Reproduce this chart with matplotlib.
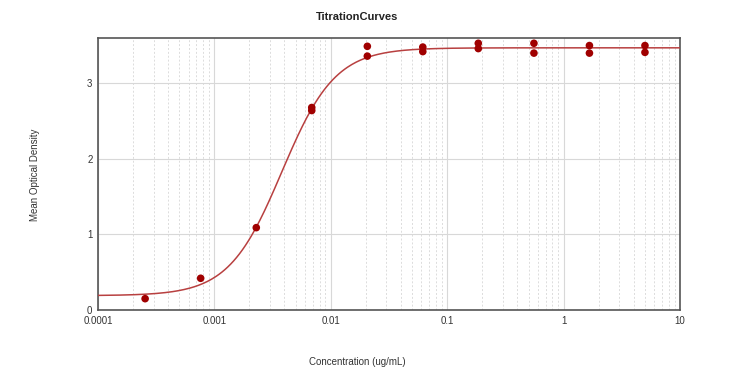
import numpy as np
import matplotlib
matplotlib.use("Agg")
import matplotlib.pyplot as plt
from matplotlib.ticker import FixedLocator, FixedFormatter, LogLocator, NullFormatter

plt.rcParams['font.family'] = ['Liberation Sans', 'DejaVu Sans']

# Data (replicates per concentration)
conc = [0.000254, 0.000762, 0.00229, 0.00686, 0.00686, 0.0206, 0.0206,
        0.0617, 0.0617, 0.185, 0.185, 0.556, 0.556, 1.667, 1.667, 5.0, 5.0]
od = [0.15, 0.42, 1.09, 2.68, 2.64, 3.49, 3.36,
      3.48, 3.42, 3.53, 3.46, 3.53, 3.40, 3.50, 3.40, 3.50, 3.41]

# 4PL fit parameters: bottom, top, EC50, hill slope
fit_params = [0.19, 3.47, 0.0038, 1.9]

x_ticks = [0.0001, 0.001, 0.01, 0.1, 1, 10]
x_tick_labels = ["0.0001", "0.001", "0.01", "0.1", "1", "10"]
y_ticks = [0, 1, 2, 3]
y_tick_labels = ["0", "1", "2", "3"]

def four_pl(x, bottom, top, ec50, hill):
    return bottom + (top - bottom) / (1 + (ec50 / x) ** hill)

fig = plt.figure(figsize=(7.44, 3.74), dpi=100)
ax = fig.add_axes([98/744, 64/374, 582/744, 272/374])

xs = np.logspace(-4, 1, 400)
ax.plot(xs, four_pl(xs, *fit_params), color='#b84040', lw=1.1, zorder=3)
ax.scatter(conc, od, s=30, color='#a00000', zorder=4, edgecolors='none')

ax.set_xscale('log')
ax.set_xlim(1e-4, 10)
ax.set_ylim(0, 3.6)
ax.xaxis.set_major_locator(FixedLocator(x_ticks))
ax.xaxis.set_major_formatter(FixedFormatter(x_tick_labels))
ax.xaxis.set_minor_locator(LogLocator(base=10, subs=np.arange(2, 10), numticks=20))
ax.xaxis.set_minor_formatter(NullFormatter())
ax.yaxis.set_major_locator(FixedLocator(y_ticks))
ax.yaxis.set_major_formatter(FixedFormatter(y_tick_labels))

ax.grid(True, which='major', axis='both', color='#d8d8d8', lw=0.8, ls='-')
ax.grid(True, which='minor', axis='x', color='#dcdcdc', lw=0.7, ls=(0, (2, 2)))
ax.set_axisbelow(True)

ax.tick_params(which='both', length=0, labelsize=7, colors='#333333', pad=4)
for s in ax.spines.values():
    s.set_color('#555555')
    s.set_linewidth(1.2)

fig.text(357/744, 1 - 17/374, "TitrationCurves", ha='center', va='center',
         fontsize=8, fontweight='bold', color='#222222')
fig.text(357/744, 1 - 362/374, "Concentration (ug/mL)", ha='center', va='center',
         fontsize=7, color='#333333')
fig.text(35/744, 1 - 175/374, "Mean Optical Density", ha='center', va='center',
         fontsize=7, color='#333333', rotation=90)

fig.savefig("out.png", dpi=100, facecolor='white')
